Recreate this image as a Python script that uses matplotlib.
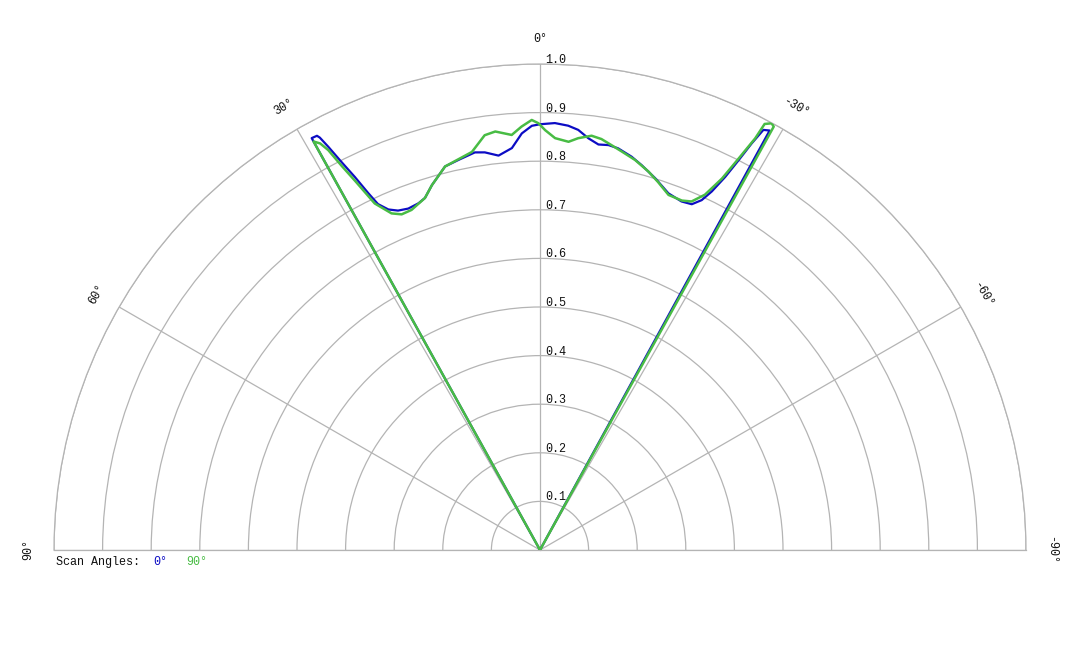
import numpy as np
import matplotlib
matplotlib.use("Agg")
import matplotlib.pyplot as plt
from matplotlib.transforms import offset_copy

# Courbes (angle en degrés, positif vers la gauche ; rayon normalisé)
blue_theta = [30.5, 29.0, 28.3, 28.1, 27.7, 27.1, 26.4, 25.7, 25.1, 24.0, 22.7, 21.1, 19.3, 18.1,
              16.5, 13.9, 11.8, 9.3, 7.9, 6.0, 4.0, 2.5, 1.1, 0.0, -2.0, -3.8, -5.2, -6.7,
              -8.2, -9.6, -11.0, -13.1, -14.8, -17.2, -19.8, -22.1, -23.7, -24.8, -25.6,
              -26.4, -27.0, -27.5, -28.0, -28.7, -30.5]
blue_r = [0.0, 0.969, 0.968, 0.962, 0.937, 0.897, 0.857, 0.815, 0.786, 0.767, 0.757, 0.753, 0.756,
          0.762, 0.783, 0.813, 0.820, 0.829, 0.826, 0.816, 0.829, 0.858, 0.873, 0.876, 0.879,
          0.875, 0.868, 0.853, 0.843, 0.845, 0.842, 0.831, 0.819, 0.801, 0.780, 0.774, 0.777,
          0.793, 0.818, 0.857, 0.900, 0.943, 0.979, 0.984, 0.0]

green_theta = [30.5, 29.0, 28.4, 27.9, 27.3, 26.6, 25.5, 23.8, 22.4, 20.7, 18.1, 16.5, 13.9, 9.7,
               7.6, 6.1, 3.9, 2.5, 1.1, 0.2, -0.7, -2.1, -4.0, -5.3, -7.1, -8.5, -10.0, -11.6,
               -13.7, -16.0, -17.8, -19.9, -22.1, -23.5, -24.9, -26.1, -26.9, -27.6, -27.8,
               -28.5, -28.9, -30.5]
green_r = [0.0, 0.961, 0.951, 0.931, 0.889, 0.849, 0.790, 0.757, 0.747, 0.748, 0.762, 0.783, 0.813,
           0.831, 0.861, 0.866, 0.856, 0.872, 0.885, 0.878, 0.864, 0.848, 0.842, 0.851, 0.859,
           0.855, 0.846, 0.837, 0.826, 0.810, 0.795, 0.777, 0.776, 0.782, 0.806, 0.851, 0.903,
           0.956, 0.991, 0.999, 0.995, 0.0]

ring_values = [0.1, 0.2, 0.3, 0.4, 0.5, 0.6, 0.7, 0.8, 0.9, 1.0]
angle_ticks = [-90, -60, -30, 0, 30, 60, 90]

grid_col = "#b4b4b4"
blue = "#0c0cc4"
green = "#48bc44"
txt_col = "#111111"
mono = "Liberation Mono"

fig = plt.figure(figsize=(10.8, 6.48), dpi=100)
# boîte carrée : le demi-disque (rayon 486 px, centre 540,550) y est centré
ax = fig.add_axes([54 / 1080, (648 - 793) / 648, 972 / 1080, 972 / 648], projection="polar")
ax.set_theta_zero_location("N")
ax.set_thetamin(-90)
ax.set_thetamax(90)
ax.set_ylim(0, 1)
ax.set_rticks(ring_values)
ax.set_xticks(np.radians(angle_ticks))
ax.set_yticklabels([])
ax.set_xticklabels([])
ax.tick_params(length=0)
ax.grid(True, color=grid_col, lw=0.9)
for sp in ax.spines.values():
    sp.set_color(grid_col)
    sp.set_linewidth(0.9)

ax.plot(np.radians(blue_theta), blue_r, color=blue, lw=1.6, zorder=3)
ax.plot(np.radians(green_theta), green_r, color=green, lw=1.8, zorder=4)

# étiquettes des anneaux
lbl_tr = offset_copy(ax.transData, fig=fig, x=5, y=-2, units="dots")
for v in ring_values:
    ax.text(0, v, f"{v:.1f}", transform=lbl_tr, ha="left", va="bottom",
            fontsize=8.5, family=mono, color=txt_col)

# étiquettes des angles
for a in angle_ticks:
    ax.text(np.radians(a), 1.052, f"{a}°", ha="center", va="center", rotation=a,
            rotation_mode="anchor", fontsize=8.5, family=mono, color=txt_col, clip_on=False)

fig.text(56 / 1080, 1 - 562 / 648, "Scan Angles:", ha="left", va="center",
         fontsize=8.5, family=mono, color=txt_col)
fig.text(153 / 1080, 1 - 562 / 648, "0°", ha="left", va="center",
         fontsize=8.5, family=mono, color=blue)
fig.text(186 / 1080, 1 - 562 / 648, "90°", ha="left", va="center",
         fontsize=8.5, family=mono, color=green)

fig.savefig("out.png", dpi=100)
